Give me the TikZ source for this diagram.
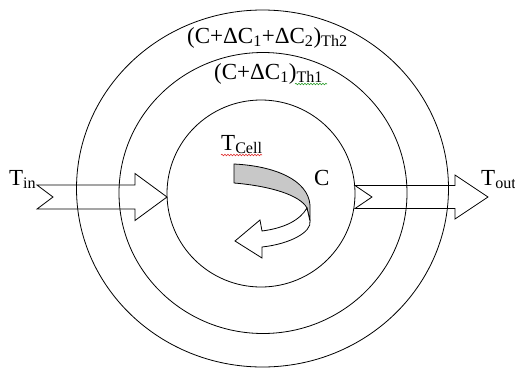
\documentclass[tikz,border=0pt]{standalone}
\usepackage{fontspec}
\setmainfont{Liberation Serif}
\usetikzlibrary{shapes.geometric,calc,decorations.pathmorphing}
\definecolor{cellgray}{HTML}{C8C8C8}
\definecolor{spellred}{HTML}{E03030}
\definecolor{spellgreen}{HTML}{2E9E2E}

\begin{document}
\begin{tikzpicture}[x=1pt, y=-1pt,
    ring/.style={draw, ellipse, line width=0.8pt, inner sep=0pt},
    blockarrow/.style={draw, line width=0.8pt, line join=miter},
    lbl/.style={inner sep=0pt, anchor=base west, font=\fontsize{23}{27}\selectfont},
    squiggle/.style={line width=0.6pt, decorate, decoration={snake, amplitude=0.8pt, segment length=3pt}}
  ]
    \useasboundingbox (0,0) rectangle (515,368);

    \node[ring, minimum width=372pt, minimum height=357pt] (outer)  at (262.5,188.5) {};
    \node[ring, minimum width=288pt, minimum height=281pt] (middle) at (263,193) {};
    \node[ring, minimum width=188pt, minimum height=187pt] (inner)  at (261,193.5) {};

    % incoming flow
    \coordinate (inTail) at (37,197);
    \coordinate (inTip)  at (167,197);
    \draw[blockarrow] ($(inTail)+(0,-12)$) -- ($(inTip)+(-32,-12)$) -- ($(inTip)+(-32,-23.5)$)
        -- (inTip) -- ($(inTip)+(-32,23.5)$) -- ($(inTip)+(-32,12)$) -- ($(inTail)+(0,12)$)
        -- ($(inTail)+(16,0)$) -- cycle;

    % outgoing flow
    \coordinate (outTail) at (355,197);
    \coordinate (outTip)  at (488,197);
    \draw[blockarrow] ($(outTail)+(0,-11.5)$) -- ($(outTip)+(-33,-11.5)$) -- ($(outTip)+(-33,-22)$)
        -- (outTip) -- ($(outTip)+(-33,22)$) -- ($(outTip)+(-33,11.5)$) -- ($(outTail)+(0,11.5)$)
        -- ($(outTail)+(17,0)$) -- cycle;

    % curved arrow in the cell
    \filldraw[fill=cellgray, line width=0.8pt, line join=round]
        (234,164) .. controls (275,166) and (308,180) .. (310,205) -- (310,221)
        -- (307,208) .. controls (300,195) and (270,186) .. (234,183) -- cycle;
    \filldraw[fill=white, line width=0.8pt, line join=miter]
        (307,208) .. controls (300,220) and (285,228) .. (262,231) -- (260,220) -- (235,241)
        -- (262,258) -- (262,247) .. controls (290,244) and (312,232) .. (310,221) -- cycle;

    \node[lbl] (tin)      at (9,185)   {T\textsubscript{in}};
    \node[lbl] (tout)     at (481,185) {T\textsubscript{out}};
    \node[lbl] (outerlbl) at (187,43)  {(C+ΔC\textsubscript{1}+ΔC\textsubscript{2})\textsubscript{Th2}};
    \node[lbl] (midlbl)   at (214,79)  {(C+ΔC\textsubscript{1})\textsubscript{Th1}};
    \node[lbl] (celllbl)  at (221,150) {T\textsubscript{Cell}};
    \node[lbl] (clbl)     at (314,185) {C};

    \draw[squiggle, spellred]   (221,155) -- (262,155);
    \draw[squiggle, spellgreen] (295,84) -- (327,84);
  \end{tikzpicture}
\end{document}
